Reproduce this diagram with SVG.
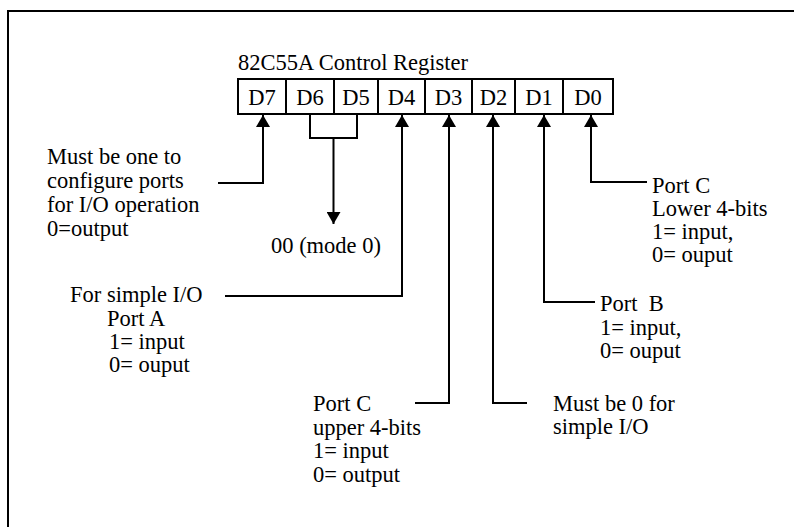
<svg xmlns="http://www.w3.org/2000/svg" width="794" height="527" viewBox="0 0 794 527">
<defs>
<marker id="ahb" viewBox="0 0 12 14" refX="12" refY="7" markerWidth="12" markerHeight="14" markerUnits="userSpaceOnUse" orient="auto">
<path d="M0,0 L12,7 L0,14 z" fill="#000"/>
</marker>
</defs>
<style>
text{font-family:"Liberation Serif","Times New Roman",serif;font-size:22.5px;fill:#000;white-space:pre}
.ln{fill:none;stroke:#000;stroke-width:2}
.cell{fill:#fff;stroke:#000;stroke-width:2}
.c{text-anchor:middle}
</style>
<rect width="794" height="527" fill="#fff"/>
<path class="ln" d="M8,527 V11 H794" stroke-width="1.5"/>
<g id="register">
<text x="238" y="70">82C55A Control Register</text>
<rect class="cell" x="238" y="79" width="375" height="35"/>
<line class="ln" x1="286" y1="79" x2="286" y2="114"/>
<line class="ln" x1="334" y1="79" x2="334" y2="114"/>
<line class="ln" x1="378" y1="79" x2="378" y2="114"/>
<line class="ln" x1="425" y1="79" x2="425" y2="114"/>
<line class="ln" x1="472" y1="79" x2="472" y2="114"/>
<line class="ln" x1="515" y1="79" x2="515" y2="114"/>
<line class="ln" x1="563" y1="79" x2="563" y2="114"/>
<text class="c" x="262" y="105">D7</text>
<text class="c" x="310" y="105">D6</text>
<text class="c" x="356" y="105">D5</text>
<text class="c" x="401.5" y="105">D4</text>
<text class="c" x="448.5" y="105">D3</text>
<text class="c" x="493.5" y="105">D2</text>
<text class="c" x="539" y="105">D1</text>
<text class="c" x="588" y="105">D0</text>
</g>
<g id="connectors">
<path class="ln" d="M218,183 H263 V115" marker-end="url(#ahb)"/>
<path class="ln" d="M310,114 V138 H357 V114 M333.5,138 V200" />
<path class="ln" d="M333.5,200 V224" marker-end="url(#ahb)"/>
<path class="ln" d="M225,296 H402 V115" marker-end="url(#ahb)"/>
<path class="ln" d="M415,403 H449 V115" marker-end="url(#ahb)"/>
<path class="ln" d="M527,403 H493 V115" marker-end="url(#ahb)"/>
<path class="ln" d="M595,302 H544 V115" marker-end="url(#ahb)"/>
<path class="ln" d="M647,182 H591 V115" marker-end="url(#ahb)"/>
</g>
<g id="d7-note">
<text x="47" y="164">Must be one to</text>
<text x="47" y="188">configure ports</text>
<text x="47" y="212">for I/O operation</text>
<text x="47" y="236">0=output</text>
</g>
<g id="d65-note">
<text x="271" y="253">00 (mode 0)</text>
</g>
<g id="d4-note">
<text x="70" y="302">For simple I/O</text>
<text x="107" y="326">Port A</text>
<text x="109" y="349">1= input</text>
<text x="109" y="372">0= ouput</text>
</g>
<g id="d3-note">
<text x="313" y="411">Port C</text>
<text x="313" y="435">upper 4-bits</text>
<text x="313" y="458">1= input</text>
<text x="313" y="482">0= output</text>
</g>
<g id="d2-note">
<text x="553" y="411">Must be 0 for</text>
<text x="553" y="434">simple I/O</text>
</g>
<g id="d1-note">
<text x="600" y="311" xml:space="preserve">Port  B</text>
<text x="600" y="335">1= input,</text>
<text x="600" y="358">0= ouput</text>
</g>
<g id="d0-note">
<text x="652" y="193">Port C</text>
<text x="652" y="216">Lower 4-bits</text>
<text x="652" y="239">1= input,</text>
<text x="652" y="262">0= ouput</text>
</g>
</svg>
